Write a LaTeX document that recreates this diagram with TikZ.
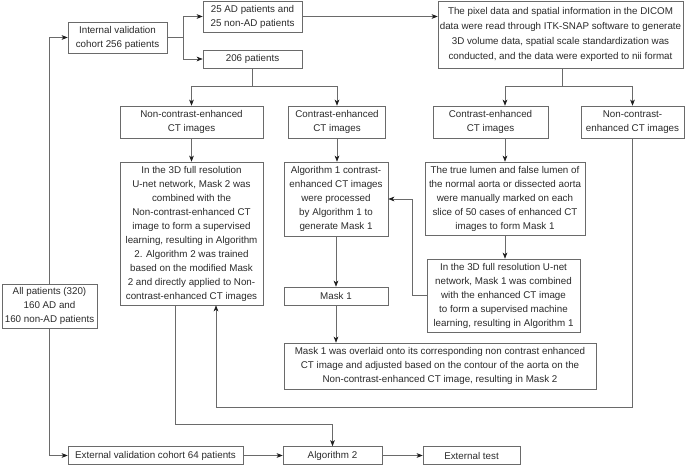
\documentclass[tikz,border=0pt]{standalone}
\usepackage{fontspec}
\setmainfont{Liberation Sans}
\usetikzlibrary{arrows.meta}
\definecolor{linec}{HTML}{6A6A6A}
\definecolor{textc}{HTML}{2A2A2A}
\definecolor{tipc}{HTML}{1E1E1E}
\newcommand\fs{\fontsize{9.8}{14}\selectfont}
\newcommand\fsd{\fontsize{9.8}{14.8}\selectfont}
\tikzset{
  box/.style={draw=linec, line width=0.6pt, text=textc, align=center, inner sep=0pt, font=\fs},
  ln/.style={draw=linec, line width=0.6pt},
  arr/.style={draw=linec, line width=0.6pt, -{Stealth[length=6pt,width=4.6pt,inset=1.6pt,color=tipc]}},
}
\begin{document}
\begin{tikzpicture}[x=1pt,y=-1pt]
\useasboundingbox (0,0) rectangle (686,465);
% nodes
\node[box, minimum width=99pt, minimum height=31pt] (intv) at (117.5,37.5) {Internal validation\\cohort 256 patients};
\node[box, minimum width=99pt, minimum height=31pt] (ad25) at (252.5,16.5) {25 AD patients and\\25 non-AD patients};
\node[box, minimum width=99pt, minimum height=18pt] (p206) at (252.5,59) {206 patients};
\node[box, font=\fsd, minimum width=245pt, minimum height=67pt] (dicom) at (560.5,34.5) {The pixel data and spatial information in the DICOM\\data were read through ITK-SNAP software to generate\\3D volume data, spatial scale standardization was\\conducted, and the data were exported to nii format};
\node[box, minimum width=143pt, minimum height=32pt] (nce1) at (191.5,122) {Non-contrast-enhanced\\CT images};
\node[box, minimum width=97pt, minimum height=32pt] (ce1) at (337,122) {Contrast-enhanced\\CT images};
\node[box, minimum width=115pt, minimum height=32pt] (ce2) at (490.5,122) {Contrast-enhanced\\CT images};
\node[box, minimum width=103pt, minimum height=32pt] (nce2) at (632.5,122) {Non-contrast-\\enhanced CT images};
\node[box, minimum width=143pt, minimum height=143pt] (unet2) at (191.5,233.5) {In the 3D full resolution\\U-net network, Mask 2 was\\combined with the\\Non-contrast-enhanced CT\\image to form a supervised\\learning, resulting in Algorithm\\2. Algorithm 2 was trained\\based on the modified Mask\\2 and directly applied to Non-\\contrast-enhanced CT images};
\node[box, minimum width=104pt, minimum height=74pt] (alg1) at (336,199) {Algorithm 1 contrast-\\enhanced CT images\\were processed\\by Algorithm 1 to\\generate Mask 1};
\node[box, minimum width=160pt, minimum height=73pt] (lumen) at (505,198.5) {The true lumen and false lumen of\\the normal aorta or dissected aorta\\were manually marked on each\\slice of 50 cases of enhanced CT\\images to form Mask 1};
\node[box, minimum width=104pt, minimum height=18pt] (mask1) at (336,296) {Mask 1};
\node[box, minimum width=153pt, minimum height=73pt] (unet1) at (503.5,295.5) {In the 3D full resolution U-net\\network, Mask 1 was combined\\with the enhanced CT image\\to form a supervised machine\\learning, resulting in Algorithm 1};
\node[box, minimum width=312pt, minimum height=46pt] (overlay) at (440,366) {Mask 1 was overlaid onto its corresponding non contrast enhanced\\CT image and adjusted based on the contour of the aorta on the\\Non-contrast-enhanced CT image, resulting in Mask 2};
\node[box, minimum width=95pt, minimum height=44pt] (allp) at (49.5,306) {All patients (320)\\160 AD and\\160 non-AD patients};
\node[box, minimum width=175pt, minimum height=18pt] (extv) at (155.5,455.5) {External validation cohort 64 patients};
\node[box, minimum width=99pt, minimum height=18pt] (alg2) at (332.5,455.5) {Algorithm 2};
\node[box, minimum width=97pt, minimum height=18pt] (ext) at (471.5,455.5) {External test};
% connectors
\draw[arr] (allp.north) |- (intv.west);
\draw[arr] (allp.south) |- (extv.west);
\coordinate (br) at (183,37.5);
\draw[ln] (intv.east) -- (br);
\draw[arr] (br) |- (ad25.west);
\draw[arr] (br) |- (p206.west);
\draw[arr] (ad25.east) -- (ad25.east -| dicom.west);
\coordinate (j1) at (252.5,86);
\draw[ln] (p206.south) -- (j1);
\draw[arr] (j1) -| (nce1.north);
\draw[arr] (j1) -| (ce1.north);
\coordinate (j2) at (562,86);
\draw[ln] (j2 |- dicom.south) -- (j2);
\draw[arr] (j2) -| (lumen.north |- ce2.north);
\draw[arr] (j2) -| (nce2.north);
\draw[arr] (nce1.south) -- (unet2.north);
\draw[arr] (ce1.south) -- (ce1.south |- alg1.north);
\draw[arr] (lumen.north |- ce2.south) -- (lumen.north);
\draw[arr] (lumen.south) -- (lumen.south |- unet1.north);
\coordinate (k) at (412,295.5);
\draw[arr] (unet1.west) -- (k) |- (alg1.east);
\draw[arr] (alg1.south) -- (mask1.north);
\draw[arr] (mask1.south) -- (mask1.south |- overlay.north);
\coordinate (r1) at (632.5,407);
\coordinate (r2) at (216,407);
\draw[arr] (nce2.south) -- (r1) -- (r2) -- (r2 |- unet2.south);
\coordinate (d1) at (175,424);
\draw[arr] (d1 |- unet2.south) -- (d1) -| (alg2.north);
\draw[arr] (extv.east) -- (alg2.west);
\draw[arr] (alg2.east) -- (ext.west);
\end{tikzpicture}
\end{document}
